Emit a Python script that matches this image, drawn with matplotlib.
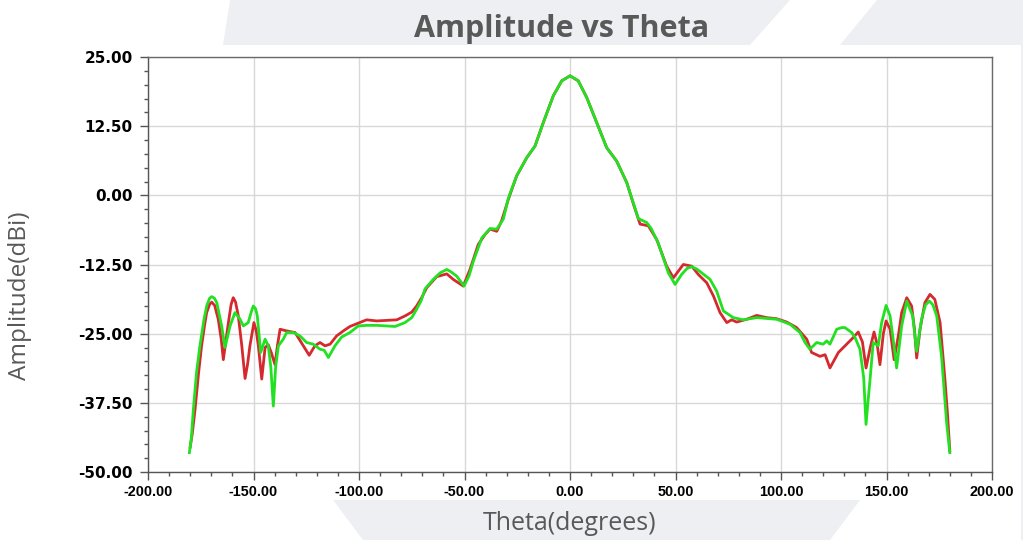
import matplotlib
matplotlib.use('Agg')
import matplotlib.pyplot as plt
from matplotlib.patches import Polygon
from matplotlib.ticker import MultipleLocator, FormatStrFormatter

# ── data ──
red_theta = [
    -180.0, -179.0, -177.7, -176.0, -174.6, -173.2, -172.2, -170.8, -169.8, -168.4,
    -166.7, -165.3, -164.3, -163.0, -161.9, -160.6, -159.6, -158.5, -157.2, -155.6,
    -154.0, -152.8, -151.7, -149.8, -148.7, -147.7, -146.1, -144.5, -143.0, -141.5,
    -139.8, -138.6, -137.4, -134.3, -130.3, -126.4, -123.6, -120.9, -118.5, -116.1,
    -113.7, -110.6, -107.4, -104.3, -100.3, -96.4, -91.6, -86.9, -82.1, -78.2,
    -75.0, -72.7, -70.3, -67.9, -63.2, -58.4, -55.3, -50.6, -47.4, -43.5,
    -40.3, -37.9, -34.7, -32.4, -29.2, -25.3, -20.5, -16.6, -12.7, -7.9,
    -3.9, 0.0, 3.9, 7.9, 12.7, 17.4, 22.1, 26.9, 30.0, 33.2,
    37.1, 41.1, 45.8, 49.0, 53.7, 57.7, 60.8, 64.8, 68.0, 71.1,
    74.3, 76.6, 79.0, 83.7, 88.5, 93.2, 98.0, 102.7, 107.4, 112.2,
    114.5, 118.5, 120.9, 123.2, 127.2, 131.1, 134.0, 136.6, 138.6, 140.3,
    142.3, 144.1, 145.6, 146.9, 148.5, 149.8, 151.7, 153.6, 155.6, 157.2,
    159.6, 161.9, 163.2, 164.3, 165.9, 168.2, 170.6, 172.9, 175.4, 177.7,
    179.0, 180.0,
]
red_amp = [
    -45.5, -43.0, -38.7, -32.0, -27.2, -23.5, -21.2, -19.7, -19.3, -19.9,
    -22.4, -26.0, -29.7, -26.0, -23.0, -19.7, -18.5, -19.3, -21.8, -27.0,
    -33.1, -30.5, -27.2, -23.0, -24.5, -27.2, -33.2, -27.5, -27.0, -28.5,
    -30.6, -27.0, -24.2, -24.5, -24.8, -27.2, -28.9, -27.2, -26.6, -27.2,
    -26.9, -25.4, -24.5, -23.7, -23.1, -22.5, -22.7, -22.6, -22.5, -21.8,
    -21.1, -20.0, -18.5, -16.7, -14.7, -14.2, -15.2, -16.4, -13.4, -8.9,
    -7.1, -6.1, -6.5, -4.6, -0.7, 3.5, 6.8, 8.9, 13.1, 18.0,
    20.7, 21.6, 20.7, 17.7, 13.1, 8.6, 6.2, 2.3, -1.5, -5.2,
    -5.5, -8.0, -12.8, -14.9, -12.5, -12.8, -14.3, -15.8, -18.2, -21.2,
    -23.0, -22.5, -22.9, -22.4, -21.7, -22.1, -22.3, -22.9, -23.9, -26.0,
    -28.4, -29.1, -28.8, -31.2, -28.4, -26.9, -25.8, -24.7, -26.5, -31.2,
    -27.5, -24.7, -27.0, -30.6, -25.0, -22.7, -24.2, -29.7, -25.4, -21.2,
    -18.5, -20.0, -24.0, -29.4, -24.2, -19.4, -17.9, -18.8, -23.0, -33.3,
    -40.0, -46.2,
]

green_theta = [
    -180.4, -179.5, -178.5, -177.0, -175.4, -173.5, -172.2, -170.8, -169.8, -168.5,
    -167.4, -165.1, -163.5, -161.1, -158.8, -156.5, -154.8, -152.5, -151.0, -150.1,
    -149.0, -148.2, -146.6, -144.5, -143.0, -141.8, -140.6, -139.5, -138.2, -135.9,
    -134.3, -131.1, -128.0, -124.8, -121.7, -118.5, -116.5, -114.5, -111.4, -108.2,
    -104.3, -100.3, -96.4, -91.6, -86.9, -82.9, -78.2, -75.0, -72.7, -70.5,
    -68.7, -64.8, -61.5, -58.4, -56.5, -53.7, -50.2, -47.8, -45.8, -41.8,
    -37.9, -34.7, -31.6, -29.2, -25.3, -20.5, -16.6, -12.7, -7.9, -3.9,
    0.0, 3.9, 7.9, 12.7, 17.4, 22.1, 26.9, 32.4, 36.3, 38.5,
    41.8, 46.6, 49.8, 52.9, 55.5, 57.7, 60.0, 62.4, 66.4, 69.5,
    72.7, 77.4, 82.1, 88.5, 98.0, 104.3, 109.0, 111.4, 113.7, 116.9,
    120.0, 121.7, 123.2, 126.4, 128.8, 130.3, 133.5, 135.1, 137.4, 139.2,
    140.3, 141.3, 142.2, 143.7, 146.1, 147.7, 149.8, 151.7, 153.5, 154.8,
    157.2, 159.6, 162.4, 164.3, 166.6, 168.5, 170.3, 172.0, 173.8, 176.1,
    178.5, 180.0,
]
green_amp = [
    -46.5, -44.0, -38.7, -32.0, -27.2, -22.5, -20.0, -18.6, -18.3, -18.6,
    -19.4, -23.6, -27.5, -23.6, -21.2, -22.3, -23.6, -23.0, -21.0, -20.0,
    -20.5, -21.8, -28.4, -26.0, -27.2, -31.0, -38.1, -31.0, -27.2, -26.0,
    -24.8, -24.8, -25.4, -26.6, -26.9, -27.8, -28.0, -29.3, -27.2, -25.6,
    -24.8, -23.6, -23.5, -23.5, -23.6, -23.7, -23.0, -22.1, -20.6, -19.0,
    -16.9, -15.2, -14.0, -13.4, -13.8, -14.6, -16.4, -14.5, -11.9, -7.7,
    -6.0, -6.1, -4.3, -0.5, 3.5, 6.8, 8.9, 13.1, 18.0, 20.7,
    21.6, 20.7, 17.7, 13.1, 8.6, 6.2, 2.3, -4.2, -4.9, -6.0,
    -8.6, -14.0, -16.1, -14.3, -13.2, -12.9, -13.3, -14.0, -15.2, -17.3,
    -20.9, -22.1, -22.5, -22.1, -22.4, -23.3, -24.8, -26.6, -27.8, -26.6,
    -26.9, -26.3, -26.9, -24.2, -23.9, -23.9, -24.8, -25.7, -27.8, -33.0,
    -41.4, -37.0, -33.3, -26.6, -27.2, -23.0, -19.9, -21.8, -27.0, -31.2,
    -23.6, -19.1, -21.8, -28.2, -22.4, -19.8, -19.1, -19.8, -21.8, -29.1,
    -41.1, -46.5,
]

x_ticks = [-200, -150, -100, -50, 0, 50, 100, 150, 200]
y_ticks = [-50, -37.5, -25, -12.5, 0, 12.5, 25]

W, H = 1023, 540
fig = plt.figure(figsize=(W / 100, H / 100), dpi=100)
fig.patch.set_facecolor('white')

# slide background shapes (pixel coords -> figure fraction)
bg = '#eeeff3'
shapes = [
    [(223, 45), (230, 0), (790, 0), (750, 45)],
    [(840, 45), (877, 0), (1023, 0), (1023, 45)],
    [(1021, 45), (1023, 45), (1023, 540), (1021, 540)],
    [(333, 500), (363, 540), (830, 540), (860, 500)],
]
for pts in shapes:
    fig.patches.append(Polygon([(x / W, 1 - y / H) for x, y in pts],
                               closed=True, transform=fig.transFigure,
                               facecolor=bg, edgecolor='none', zorder=0))

ax = fig.add_axes([148 / W, 1 - 472 / H, 844 / W, 415 / H])
ax.set_facecolor('white')

ax.plot(red_theta, red_amp, color='#d42a2e', lw=2.0, zorder=3,
        solid_joinstyle='round')
ax.plot(green_theta, green_amp, color='#22e022', lw=2.0, zorder=4,
        solid_joinstyle='round')

ax.set_xlim(-200, 200)
ax.set_ylim(-50, 25)
ax.set_xticks(x_ticks)
ax.set_yticks(y_ticks)
ax.xaxis.set_minor_locator(MultipleLocator(10))
ax.yaxis.set_minor_locator(MultipleLocator(2.5))
ax.xaxis.set_major_formatter(FormatStrFormatter('%.2f'))
ax.yaxis.set_major_formatter(FormatStrFormatter('%.2f'))
ax.grid(True, which='major', color='#d8d8d8', lw=1.0, zorder=0)
ax.set_axisbelow(True)

for s in ax.spines.values():
    s.set_color('#6a6a6a')
    s.set_linewidth(1.0)
ax.spines['left'].set_color('#555555')
ax.spines['bottom'].set_color('#555555')

ax.tick_params(axis='both', which='major', length=6, width=1, color='#555555')
ax.tick_params(axis='both', which='minor', length=3, width=1, color='#555555')
ax.tick_params(axis='y', pad=5)
ax.tick_params(axis='x', pad=3)
for lab in ax.get_yticklabels():
    lab.set_fontfamily('DejaVu Sans')
    lab.set_fontweight('bold')
    lab.set_fontsize(11)
for lab in ax.get_xticklabels():
    lab.set_fontfamily('Liberation Sans')
    lab.set_fontweight('bold')
    lab.set_fontsize(10.4)

fig.text(562 / W, 1 - 29 / H, 'Amplitude vs Theta', ha='center', va='center',
         fontsize=22, fontweight='bold', color='#595959', family='Open Sans')
fig.text(20 / W, 1 - 296 / H, 'Amplitude(dBi)', ha='center', va='center',
         rotation=90, fontsize=17.5, color='#595959', family='Open Sans')
fig.text(570 / W, 1 - 524 / H, 'Theta(degrees)', ha='center', va='center',
         fontsize=18, color='#595959', family='Open Sans')

fig.savefig('out.png', dpi=100)
